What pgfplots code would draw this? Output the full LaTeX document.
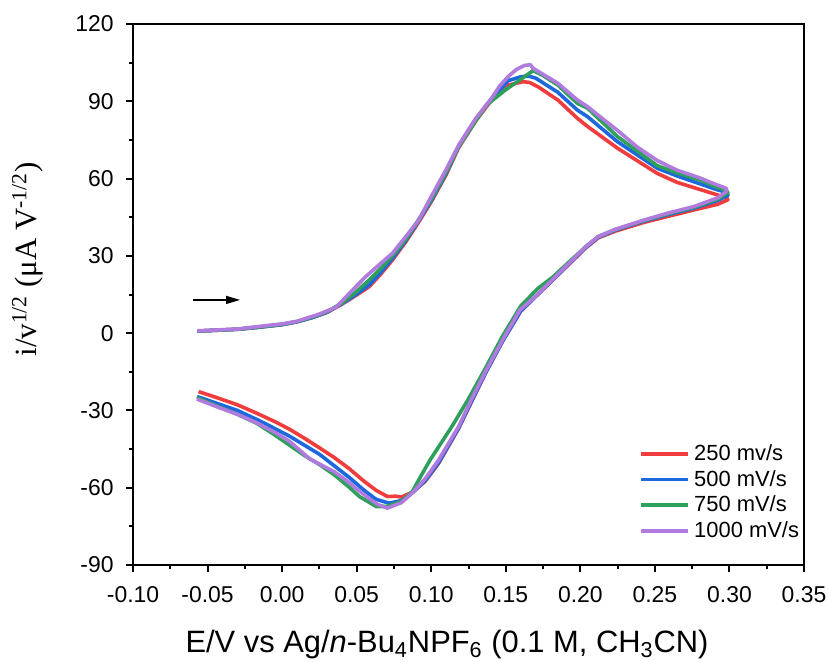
\documentclass[border=0pt]{standalone}
\usepackage{fontspec}
\setmainfont{Liberation Sans}
\newfontfamily\timesfont{Liberation Serif}
\usepackage{pgfplots}
\pgfplotsset{compat=1.18}
\usetikzlibrary{arrows.meta}
\definecolor{cred}{RGB}{240,60,60}
\definecolor{cblue}{RGB}{28,104,220}
\definecolor{cgreen}{RGB}{46,160,92}
\definecolor{cpurple}{RGB}{176,122,222}
\begin{document}
\begin{tikzpicture}
\begin{axis}[
  scale only axis, width=335.5bp, height=270.5bp,
  xmin=-0.10, xmax=0.35, ymin=-90, ymax=120,
  xtick={-0.10,-0.05,0,0.05,0.10,0.15,0.20,0.25,0.30,0.35},
  ytick={-90,-60,-30,0,30,60,90,120},
  minor x tick num=1, minor y tick num=1,
  tick align=outside, xtick pos=bottom, ytick pos=left,
  major tick length=3.5bp, minor tick length=2bp,
  every tick/.style={black, line width=1bp},
  axis line style={line width=1bp},
  scaled ticks=false,
  /pgf/number format/assume math mode=true,
  tick label style={font=\fontsize{11.5}{13.5}\selectfont},
  xticklabel style={yshift=-3.5bp, /pgf/number format/fixed, /pgf/number format/fixed zerofill, /pgf/number format/precision=2},
  yticklabel style={xshift=-2.7bp},
  xlabel={E/V vs Ag/\textit{n}-Bu\textsubscript{4}NPF\textsubscript{6} (0.1 M, CH\textsubscript{3}CN)},
  xlabel style={font=\fontsize{15.5}{18}\selectfont, at={(axis description cs:0.468,0)}, anchor=base, yshift=-43.5bp},
  ylabel={\timesfont i/v\textsuperscript{1/2} (μA V\textsuperscript{-1/2})},
  ylabel style={font=\fontsize{15.5}{18}\selectfont, at={(axis description cs:-0.157,0.565)}, anchor=center},
  legend cell align=left,
  legend style={at={(axis cs:0.2355,-40)}, anchor=north west, draw=none, fill=none, font=\fontsize{11}{13}\selectfont, row sep=-0.6bp},
  legend image code/.code={\draw[#1] (0bp,0bp) -- (23.5bp,0bp);},
  every axis plot/.append style={line width=1.8bp, line join=round},
]
\addplot[cred] coordinates {
(-0.057,0.8) (-0.045,1.1) (-0.030,1.5) (-0.017,2.2) (0.000,3.3) (0.010,4.4) (0.020,6.0) (0.030,8.0)
(0.040,11.2) (0.050,14.8) (0.0585,18.1) (0.066,22.8) (0.074,28.4) (0.083,35.5) (0.092,43.5) (0.100,51.0)
(0.110,61.5) (0.1184,72.0) (0.130,82.5) (0.1405,90.5) (0.1516,96.3) (0.1617,97.6) (0.166,97.3) (0.172,95.5)
(0.1849,90.5) (0.198,83.4) (0.2049,80.2) (0.2249,71.8) (0.2516,62.0) (0.265,58.5) (0.280,55.8) (0.290,54.0)
(0.298,52.6) (0.299,51.8) (0.292,50.0) (0.276,47.8) (0.260,45.5) (0.2427,43.0) (0.2235,39.6) (0.212,37.0)
(0.2035,33.0) (0.195,28.2) (0.181,20.3) (0.170,14.2) (0.160,8.5) (0.148,-3.0) (0.137,-14.8) (0.128,-25.5)
(0.1184,-37.0) (0.105,-50.5) (0.096,-57.5) (0.0873,-61.8) (0.080,-63.6) (0.076,-63.3) (0.0706,-63.4) (0.063,-61.0)
(0.055,-57.5) (0.045,-52.6) (0.035,-48.3) (0.025,-44.5) (0.015,-40.8) (0.005,-37.3) (-0.005,-34.3) (-0.017,-31.1)
(-0.030,-27.8) (-0.045,-24.8) (-0.056,-22.7)
};
\addlegendentry{250 mv/s}
\addplot[cblue] coordinates {
(-0.057,0.8) (-0.045,1.1) (-0.030,1.5) (-0.017,2.2) (0.000,3.3) (0.010,4.4) (0.020,6.0) (0.030,8.1)
(0.040,11.4) (0.050,15.2) (0.0585,18.8) (0.066,23.5) (0.074,29.0) (0.083,36.0) (0.092,44.0) (0.100,51.5)
(0.110,62.0) (0.1184,72.5) (0.130,83.0) (0.1405,91.0) (0.1516,98.0) (0.160,99.5) (0.165,99.8) (0.170,99.0)
(0.1849,93.5) (0.198,86.6) (0.2049,84.0) (0.2249,74.3) (0.2516,64.0) (0.265,61.0) (0.280,58.0) (0.290,56.0)
(0.298,54.6) (0.299,53.5) (0.292,51.5) (0.276,48.5) (0.260,46.2) (0.2427,43.5) (0.2235,40.0) (0.212,37.2)
(0.2035,33.2) (0.195,28.4) (0.181,20.4) (0.170,14.2) (0.160,8.6) (0.148,-3.0) (0.137,-14.8) (0.128,-25.3)
(0.1184,-36.8) (0.105,-50.2) (0.096,-57.2) (0.0873,-62.0) (0.080,-65.0) (0.0717,-66.0) (0.063,-64.5) (0.055,-61.0)
(0.045,-56.0) (0.035,-51.5) (0.025,-47.0) (0.015,-43.5) (0.005,-40.0) (-0.005,-37.0) (-0.017,-33.5) (-0.030,-30.0)
(-0.045,-27.0) (-0.057,-24.6)
};
\addlegendentry{500 mV/s}
\addplot[cgreen] coordinates {
(-0.057,0.8) (-0.045,1.1) (-0.030,1.5) (-0.017,2.3) (0.000,3.4) (0.010,4.5) (0.020,6.2) (0.030,8.3)
(0.040,11.6) (0.050,16.2) (0.0585,20.7) (0.066,25.0) (0.074,30.0) (0.083,36.5) (0.092,44.5) (0.100,52.0)
(0.110,62.5) (0.1184,72.4) (0.130,82.5) (0.1372,88.6) (0.150,94.5) (0.160,98.5) (0.1683,101.9) (0.175,100.0)
(0.1849,96.3) (0.198,89.2) (0.2049,87.3) (0.2249,76.3) (0.2516,65.0) (0.265,62.2) (0.280,59.5) (0.290,57.0)
(0.298,55.3) (0.299,54.5) (0.292,52.0) (0.276,48.8) (0.260,46.5) (0.2427,43.7) (0.2235,40.2) (0.212,37.5)
(0.2035,33.5) (0.195,29.0) (0.181,21.5) (0.1716,17.4) (0.160,10.5) (0.148,-1.0) (0.136,-14.0) (0.125,-25.5)
(0.1139,-36.2) (0.0995,-49.0) (0.095,-53.5) (0.0873,-61.5) (0.080,-65.3) (0.070,-67.3) (0.063,-67.3) (0.0518,-63.4)
(0.045,-59.8) (0.035,-55.0) (0.025,-51.0) (0.015,-47.5) (0.005,-43.5) (-0.005,-39.5) (-0.017,-35.0) (-0.030,-31.5)
(-0.045,-28.0) (-0.057,-25.0)
};
\addlegendentry{750 mV/s}
\addplot[cpurple] coordinates {
(-0.057,0.9) (-0.045,1.2) (-0.030,1.6) (-0.017,2.5) (0.000,3.6) (0.010,4.6) (0.0163,5.8) (0.025,7.4)
(0.0363,10.1) (0.046,16.0) (0.0562,22.0) (0.065,26.5) (0.074,31.0) (0.083,37.5) (0.0917,44.0) (0.100,53.0)
(0.110,63.5) (0.1184,73.0) (0.130,83.5) (0.1405,91.2) (0.146,96.0) (0.1516,99.6) (0.157,102.3) (0.1625,103.9)
(0.1665,104.2) (0.1683,102.8) (0.1849,97.0) (0.198,90.5) (0.2049,87.9) (0.215,83.2) (0.2249,78.7) (0.238,72.3)
(0.2516,67.0) (0.265,63.2) (0.280,60.3) (0.290,57.9) (0.298,56.2) (0.298,55.0) (0.292,52.5) (0.276,49.1)
(0.260,46.8) (0.2427,43.9) (0.2235,40.3) (0.212,37.5) (0.2035,33.5) (0.195,28.6) (0.181,20.6) (0.170,14.3)
(0.1595,9.0) (0.148,-2.5) (0.137,-14.2) (0.128,-24.5) (0.1184,-36.2) (0.105,-49.2) (0.096,-56.5) (0.0873,-62.0)
(0.080,-65.8) (0.0706,-67.9) (0.064,-66.5) (0.058,-64.0) (0.050,-60.5) (0.045,-58.0) (0.035,-53.8) (0.025,-50.8)
(0.0185,-48.8) (0.005,-42.0) (-0.005,-38.5) (-0.017,-34.8) (-0.030,-31.5) (-0.045,-28.3) (-0.057,-25.6)
};
\addlegendentry{1000 mV/s}
\draw[-{Triangle[length=7bp,width=4bp]}, line width=0.6bp, black] (axis cs:-0.0598,12.9) -- (axis cs:-0.0282,12.9);
\end{axis}
\pgfresetboundingbox
\useasboundingbox ([shift={(-66.5bp,-48bp)}]current axis.south west) rectangle ([shift={(12bp,12bp)}]current axis.north east);
\end{tikzpicture}
\end{document}
